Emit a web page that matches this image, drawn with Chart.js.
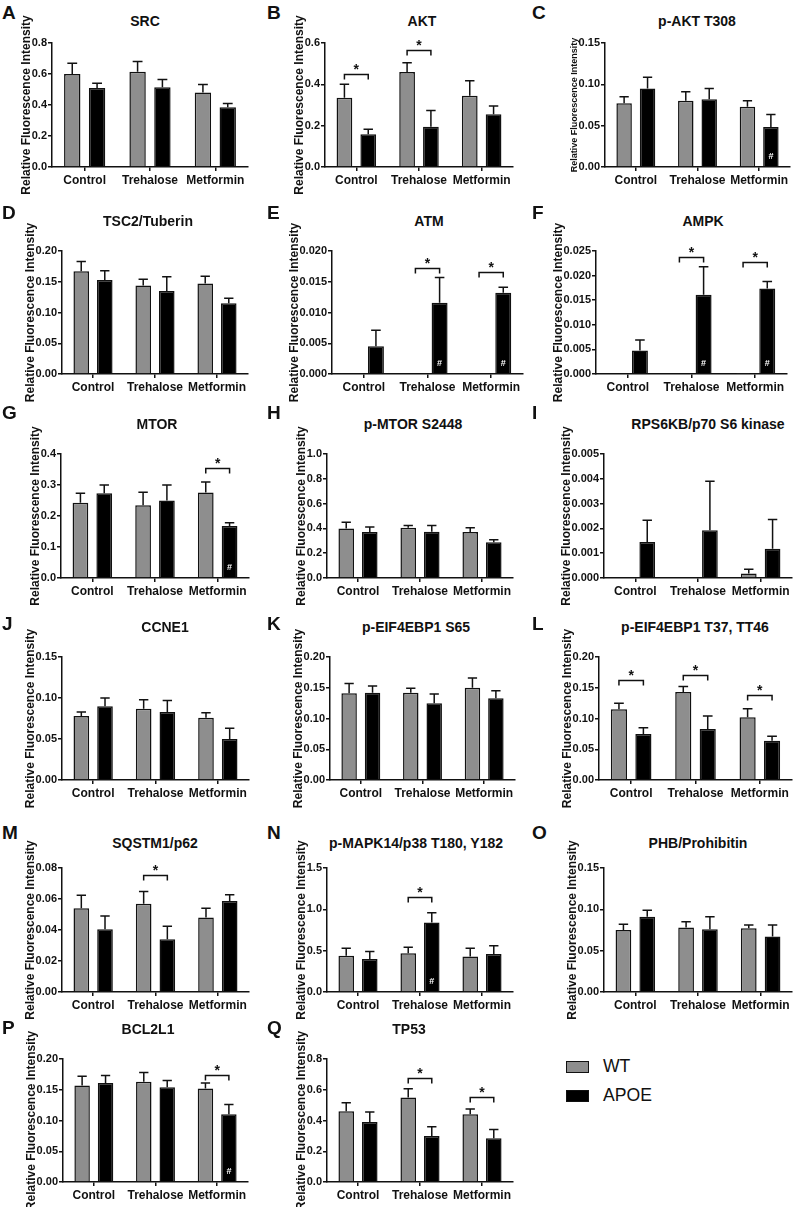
<!DOCTYPE html>
<html>
<head>
<meta charset="utf-8" />
<script src="https://cdn.jsdelivr.net/npm/chart.js@4.4.1/dist/chart.umd.min.js"></script>
<style>
  body { margin: 0; background: #fff; overflow: hidden; }
  #fig { position: relative; width: 800px; height: 1207px; overflow: hidden; background: #fff; }
  #fig canvas { position: absolute; }
  .txt { position: absolute; transform: translate(-50%, -50%); white-space: nowrap;
         font-family: 'Liberation Sans', Arial, sans-serif; color: #111; line-height: 1; }
  .letter { font-size: 19px; font-weight: bold; transform: translate(0, -50%); }
  .title { font-size: 14px; font-weight: bold; }
  .legend-box { position: absolute; width: 21px; height: 10px; border: 1.5px solid #111; }
  .legend-txt { font-size: 17.6px; transform: translate(0, -50%); }
</style>
</head>
<body>
<div id="fig"></div>
<script>
  // ---- data ----
  const categories = ['Control', 'Trehalose', 'Metformin'];
  const panelIds = ['A','B','C','D','E','F','G','H','I','J','K','L','M','N','O','P','Q'];
  const panelTitles = ['SRC', 'AKT', 'p-AKT T308', 'TSC2/Tuberin', 'ATM', 'AMPK', 'MTOR', 'p-MTOR S2448',
    'RPS6KB/p70 S6 kinase', 'CCNE1', 'p-EIF4EBP1 S65', 'p-EIF4EBP1 T37, TT46', 'SQSTM1/p62',
    'p-MAPK14/p38 T180, Y182', 'PHB/Prohibitin', 'BCL2L1', 'TP53'];

  const wtMean = [
    [0.60, 0.615, 0.48], [0.335, 0.46, 0.345], [0.077, 0.080, 0.073], [0.167, 0.144, 0.147],
    [0.0001, 0.0001, 0.0001], [0, 0, 0.0001], [0.243, 0.235, 0.276], [0.40, 0.405, 0.37],
    [0, 0, 0.00018], [0.078, 0.087, 0.076], [0.141, 0.142, 0.15], [0.115, 0.143, 0.102],
    [0.054, 0.057, 0.048], [0.44, 0.47, 0.43], [0.075, 0.078, 0.077], [0.157, 0.163, 0.152],
    [0.46, 0.55, 0.44]
  ];
  const wtErr = [
    [0.07, 0.065, 0.052], [0.065, 0.045, 0.072], [0.008, 0.011, 0.007], [0.016, 0.010, 0.012],
    [0, 0, 0], [0, 0, 0], [0.03, 0.042, 0.034], [0.05, 0.018, 0.035],
    [0, 0, 0.00017], [0.005, 0.011, 0.006], [0.016, 0.007, 0.016], [0.01, 0.009, 0.014],
    [0.0085, 0.0078, 0.006], [0.09, 0.07, 0.10], [0.007, 0.007, 0.004], [0.015, 0.015, 0.009],
    [0.055, 0.057, 0.035]
  ];
  const apoeMean = [
    [0.51, 0.515, 0.385], [0.158, 0.195, 0.255], [0.095, 0.082, 0.0485], [0.153, 0.135, 0.115],
    [0.0045, 0.0116, 0.0132], [0.0048, 0.0161, 0.0174], [0.273, 0.25, 0.168], [0.37, 0.373, 0.288],
    [0.00145, 0.00193, 0.00118], [0.09, 0.083, 0.05], [0.142, 0.125, 0.133], [0.075, 0.083, 0.064],
    [0.0405, 0.034, 0.0587], [0.40, 0.84, 0.46], [0.091, 0.076, 0.067], [0.161, 0.154, 0.11],
    [0.39, 0.30, 0.285]
  ];
  const apoeErr = [
    [0.03, 0.05, 0.025], [0.025, 0.078, 0.04], [0.0135, 0.013, 0.015], [0.015, 0.023, 0.008],
    [0.0026, 0.0041, 0.0009], [0.0021, 0.0057, 0.0014], [0.027, 0.05, 0.01], [0.042, 0.05, 0.021],
    [0.00088, 0.00197, 0.00118], [0.01, 0.014, 0.013], [0.011, 0.015, 0.012], [0.01, 0.021, 0.007],
    [0.0085, 0.0085, 0.004], [0.09, 0.12, 0.10], [0.008, 0.015, 0.014], [0.012, 0.011, 0.016],
    [0.065, 0.06, 0.057]
  ];

  // y axis: max, step, decimals of the tick labels
  const yMax  = [0.8, 0.6, 0.15, 0.20, 0.020, 0.025, 0.4, 1.0, 0.005, 0.15, 0.20, 0.20, 0.08, 1.5, 0.15, 0.20, 0.8];
  const yStep = [0.2, 0.2, 0.05, 0.05, 0.005, 0.005, 0.1, 0.2, 0.001, 0.05, 0.05, 0.05, 0.02, 0.5, 0.05, 0.05, 0.2];
  const yDec  = [1, 1, 2, 2, 3, 3, 1, 1, 3, 2, 2, 2, 2, 1, 2, 2, 1];

  // significance brackets (*): [category index, bracket height]
  const sigBrackets = [
    [], [[0, 0.45], [1, 0.565]], [], [], [[1, 0.0172], [2, 0.0166]], [[1, 0.0238], [2, 0.0228]],
    [[2, 0.355]], [], [], [], [], [[0, 0.163], [1, 0.170], [2, 0.138]], [[1, 0.0755]],
    [[1, 1.15]], [], [[2, 0.174]], [[1, 0.676], [2, 0.553]]
  ];
  // '#' marks inside APOE bars: category indices
  const hashMarks = [[], [], [2], [], [1, 2], [1, 2], [2], [], [], [], [], [], [], [1], [], [2], []];

  // ---- layout ----
  const colX = [0, 265, 530];
  const rowPlotTop = [43, 251, 454, 657, 868, 1059];
  const rowPlotBottom = [167, 374, 578, 780, 992, 1182];
  const rowTitleY = [21, 221, 424, 627, 843, 1029];
  const rowLetterY = [12, 212, 412, 623, 832, 1027];
  // per panel: y-axis x, plot right edge, title centre x
  const axisX     = [52, 325, 605, 62, 332, 596, 61, 327, 604, 62, 330, 599, 62, 327, 604, 63, 327];
  const plotRight = [248, 513, 790, 248, 523, 787, 249, 513, 792, 249, 515, 792, 249, 513, 792, 248, 513];
  const titleX    = [145, 422, 697, 148, 429, 703, 157, 413, 708, 165, 416, 695, 155, 416, 698, 148, 409];

  const FONT = "'Liberation Sans', Arial, sans-serif";
  const INK = '#111';
  const GRAY = '#8e8e8e';
  const PAD_TOP = 40, X_AXIS_H = 24, PAD_BOTTOM = 16, PAD_RIGHT = 6;
  const Y_TICK_LEN = 4, Y_TICK_PAD = 1, Y_TICK_SIZE = 11;

  const fig = document.getElementById('fig');
  const measure = document.createElement('canvas').getContext('2d');

  function addText(cls, text, x, y) {
    const d = document.createElement('div');
    d.className = 'txt ' + cls;
    d.textContent = text;
    d.style.left = x + 'px';
    d.style.top = y + 'px';
    fig.appendChild(d);
    return d;
  }

  // error bars, brackets and # marks
  const marksPlugin = {
    id: 'marks',
    afterDatasetsDraw(chart, args, opts) {
      const p = opts.panel;
      const ctx = chart.ctx;
      const y = chart.scales.y;
      ctx.save();
      ctx.strokeStyle = INK;
      ctx.lineWidth = 1.5;
      chart.data.datasets.forEach((ds, di) => {
        const meta = chart.getDatasetMeta(di);
        meta.data.forEach((bar, i) => {
          const e = ds.errors[i];
          if (!e) return;
          const top = y.getPixelForValue(ds.data[i] + e);
          const half = bar.width * 0.3;
          ctx.beginPath();
          ctx.moveTo(bar.x, bar.y);
          ctx.lineTo(bar.x, top);
          ctx.moveTo(bar.x - half, top);
          ctx.lineTo(bar.x + half, top);
          ctx.stroke();
        });
      });

      const m0 = chart.getDatasetMeta(0), m1 = chart.getDatasetMeta(1);
      ctx.fillStyle = INK;
      ctx.font = 'bold 14px ' + FONT;
      ctx.textAlign = 'center';
      ctx.textBaseline = 'alphabetic';
      sigBrackets[p].forEach(([i, level]) => {
        const x1 = m0.data[i].x, x2 = m1.data[i].x;
        const yy = Math.round(y.getPixelForValue(level)) + 0.5;
        ctx.beginPath();
        ctx.moveTo(x1, yy + 5);
        ctx.lineTo(x1, yy);
        ctx.lineTo(x2, yy);
        ctx.lineTo(x2, yy + 5);
        ctx.stroke();
        ctx.fillText('*', (x1 + x2) / 2, yy - 1);
      });

      ctx.fillStyle = '#fff';
      ctx.font = 'bold 9px ' + FONT;
      ctx.textBaseline = 'middle';
      hashMarks[p].forEach(i => {
        const bar = m1.data[i];
        ctx.fillText('#', bar.x, y.getPixelForValue(0) - 10);
      });
      ctx.restore();
    }
  };

  panelIds.forEach((id, p) => {
    const col = p % 3, row = Math.floor(p / 3);
    const left = colX[col];
    const plotTop = rowPlotTop[row], plotBottom = rowPlotBottom[row];
    const cw = plotRight[p] - left + PAD_RIGHT;
    const ch = PAD_TOP + (plotBottom - plotTop) + X_AXIS_H + PAD_BOTTOM;

    addText('letter', id, left + 2, rowLetterY[row]);
    addText('title', panelTitles[p], titleX[p], rowTitleY[row]);

    const cv = document.createElement('canvas');
    cv.width = cw; cv.height = ch;
    cv.style.width = cw + 'px'; cv.style.height = ch + 'px';
    cv.style.left = left + 'px';
    cv.style.top = (plotTop - PAD_TOP) + 'px';
    fig.appendChild(cv);

    // widest y tick label decides where the rotated axis title sits
    measure.font = 'bold ' + Y_TICK_SIZE + 'px ' + FONT;
    let labelW = 0;
    const nTicks = Math.round(yMax[p] / yStep[p]);
    for (let k = 0; k <= nTicks; k++) {
      labelW = Math.max(labelW, measure.measureText((k * yStep[p]).toFixed(yDec[p])).width);
    }
    const yTitleSize = (id === 'C') ? 9 : 12;
    const yTitleCentre = axisX[p] - Y_TICK_LEN - Y_TICK_PAD - labelW - yTitleSize * 0.42;
    const yTitlePad = yTitleCentre - left - yTitleSize * 1.2 / 2;
    const yAxisW = axisX[p] - left;

    new Chart(cv, {
      type: 'bar',
      data: {
        labels: categories,
        datasets: [
          { label: 'WT', data: wtMean[p], errors: wtErr[p], backgroundColor: GRAY, borderColor: INK,
            borderWidth: 1.5, categoryPercentage: 0.76, barPercentage: 0.66 },
          { label: 'APOE', data: apoeMean[p], errors: apoeErr[p], backgroundColor: '#000', borderColor: INK,
            borderWidth: 1.5, categoryPercentage: 0.76, barPercentage: 0.66 }
        ]
      },
      options: {
        responsive: false,
        animation: false,
        layout: { padding: { left: 0, top: PAD_TOP, right: PAD_RIGHT, bottom: PAD_BOTTOM } },
        plugins: {
          legend: { display: false },
          tooltip: { enabled: false },
          marks: { panel: p }
        },
        scales: {
          x: {
            offset: true,
            grid: { display: true, drawOnChartArea: false, offset: false, color: INK, lineWidth: 1.5, tickLength: 4 },
            border: { display: true, color: INK, width: 1.5 },
            ticks: { color: INK, font: { family: FONT, size: 12, weight: 'bold' }, padding: 2,
                     maxRotation: 0, autoSkip: false },
            afterFit: s => { s.height = X_AXIS_H; }
          },
          y: {
            min: 0,
            max: yMax[p],
            grid: { drawOnChartArea: false, color: INK, lineWidth: 1.5, tickLength: Y_TICK_LEN },
            border: { display: true, color: INK, width: 1.5 },
            ticks: { stepSize: yStep[p], color: INK, padding: Y_TICK_PAD,
                     font: { family: FONT, size: Y_TICK_SIZE, weight: 'bold' },
                     callback: v => v.toFixed(yDec[p]) },
            title: { display: true, text: 'Relative Fluorescence Intensity', color: INK,
                     font: { family: FONT, size: yTitleSize, weight: 'bold' },
                     padding: { top: yTitlePad, bottom: 0 } },
            afterFit: s => { s.width = yAxisW; }
          }
        }
      },
      plugins: [marksPlugin]
    });
  });

  // legend
  const legendItems = ['WT', 'APOE'];
  const legendColors = [GRAY, '#000'];
  const legendY = [1067, 1096];
  legendItems.forEach((name, i) => {
    const b = document.createElement('div');
    b.className = 'legend-box';
    b.style.left = '566px';
    b.style.top = (legendY[i] - 6) + 'px';
    b.style.background = legendColors[i];
    fig.appendChild(b);
    addText('legend-txt', name, 603, legendY[i]);
  });
</script>
</body>
</html>
